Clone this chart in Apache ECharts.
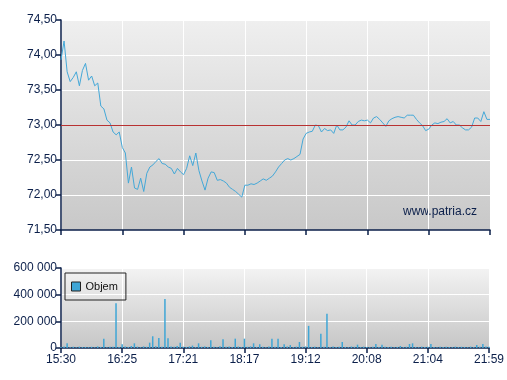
<!DOCTYPE html>
<html><head><meta charset="utf-8">
<script src="https://cdn.jsdelivr.net/npm/echarts@6/dist/echarts.min.js"></script>
<style>html,body{margin:0;padding:0;background:#fff}#c{width:507px;height:380px}</style>
</head><body><div id="c"></div>
<script>
const timeLabels = ["15:30","16:25","17:21","18:17","19:12","20:08","21:04","21:59"];
const price = [
73.93,74.20,73.76,73.62,73.68,73.76,73.56,73.78,73.88,73.64,
73.70,73.56,73.60,73.27,73.23,73.07,73.03,72.90,72.86,72.90,
72.68,72.60,72.17,72.40,72.10,72.08,72.24,72.05,72.31,72.40,
72.43,72.48,72.52,72.45,72.44,72.40,72.38,72.30,72.38,72.33,
72.29,72.38,72.56,72.42,72.60,72.35,72.20,72.07,72.24,72.33,
72.32,72.21,72.22,72.20,72.17,72.11,72.08,72.05,72.01,71.97,
72.14,72.14,72.16,72.15,72.17,72.20,72.23,72.21,72.24,72.27,
72.33,72.40,72.45,72.50,72.52,72.50,72.52,72.55,72.58,72.80,
72.88,72.90,72.91,73.00,72.99,72.90,72.95,72.92,72.93,72.88,
73.00,72.93,72.93,72.97,73.06,73.00,73.00,73.05,73.07,73.06,
73.07,73.03,73.10,73.12,73.08,73.03,72.98,73.06,73.09,73.11,
73.12,73.11,73.10,73.14,73.14,73.14,73.08,73.03,72.99,72.92,
72.94,73.00,73.03,73.02,73.04,73.05,73.09,73.03,73.05,73.00,
73.00,72.96,72.93,72.93,72.97,73.10,73.10,73.05,73.19,73.08,
73.08];
const volume = [
8000,12000,35000,6000,9000,5000,10000,7000,8000,6000,
9000,5000,12000,8000,70000,6000,9000,10000,336000,7000,
28000,12000,8000,15000,35000,10000,6000,12000,9000,40000,
88000,14000,75000,10000,368000,73000,12000,9000,15000,40000,
10000,8000,12000,18000,7000,35000,9000,12000,8000,58000,
10000,6000,14000,65000,9000,12000,8000,70000,11000,7000,
70000,9000,12000,35000,8000,28000,10000,6000,12000,70000,
9000,70000,8000,28000,11000,22000,7000,10000,45000,9000,
12000,166000,8000,10000,6000,106000,9000,257000,8000,12000,
7000,10000,45000,8000,6000,11000,9000,25000,7000,10000,
8000,6000,9000,30000,8000,25000,10000,7000,9000,6000,
8000,15000,7000,9000,30000,35000,8000,6000,10000,7000,
9000,30000,8000,6000,10000,7000,9000,8000,6000,10000,
7000,9000,8000,6000,10000,7000,22000,9000,30000,12000,
10000];
const refLevel = 73.00;

const navy = '#0b1f4a';
const chart = echarts.init(document.getElementById('c'));
const grad = (a,b)=>new echarts.graphic.LinearGradient(0,0,0,1,[{offset:0,color:a},{offset:1,color:b}]);
const xAxisCommon = (gi, showLabel) => ({
  type:'value', gridIndex:gi, min:0, max:price.length-1, interval:20,
  axisLine:{show:true,lineStyle:{color:navy,width:1.5}},
  axisTick:{show:true,length:5,lineStyle:{color:navy,width:1.5}},
  axisLabel:{show:showLabel,color:navy,fontSize:12,fontFamily:'Liberation Sans, Arial',margin:6,
    formatter:v=>timeLabels[Math.round(v/20)]||''},
  splitLine:{show:true,lineStyle:{color:'#ffffff',width:1}}
});
chart.setOption({
  animation:false,
  grid:[
    {left:61,top:20,width:429,height:210,show:true,borderWidth:0,backgroundColor:grad('#efefef','#c8c8c8')},
    {left:61,top:268,width:429,height:80,show:true,borderWidth:0,backgroundColor:grad('#f3f3f3','#c6c6c6')}
  ],
  xAxis:[xAxisCommon(0,false), xAxisCommon(1,true)],
  yAxis:[
    {type:'value',gridIndex:0,min:71.5,max:74.5,interval:0.5,
     axisLine:{show:true,lineStyle:{color:navy,width:1.5}},
     axisTick:{show:true,length:5,lineStyle:{color:navy,width:1.5}},
     axisLabel:{color:navy,fontSize:12,fontFamily:'Liberation Sans, Arial',margin:4,formatter:v=>v.toFixed(2).replace('.',',')},
     splitLine:{lineStyle:{color:'#ffffff',width:1}}},
    {type:'value',gridIndex:1,min:0,max:600000,interval:200000,
     axisLine:{show:true,lineStyle:{color:navy,width:1.5}},
     axisTick:{show:true,length:5,lineStyle:{color:navy,width:1.5}},
     axisLabel:{color:navy,fontSize:12,fontFamily:'Liberation Sans, Arial',margin:4,formatter:v=>String(v).replace(/\B(?=(\d{3})+(?!\d))/g,' ')},
     splitLine:{lineStyle:{color:'#ffffff',width:1}}}
  ],
  legend:{
    data:[{name:'Objem',icon:'rect'}], left:65, top:273, orient:'vertical',
    borderColor:'#222',borderWidth:1,borderRadius:0,padding:[8,8,8,6],itemWidth:9,itemHeight:9,itemGap:5,
    textStyle:{color:'#111',fontSize:11,fontFamily:'Liberation Sans, Arial'},
    itemStyle:{borderColor:'#222',borderWidth:1}
  },
  graphic:[{type:'text',left:403,top:206,style:{text:'www.patria.cz',fill:navy,font:'12px Liberation Sans, Arial'}}],
  series:[
    {type:'line',name:'Cena',xAxisIndex:0,yAxisIndex:0,data:price.map((v,i)=>[i,v]),
     symbol:'none',lineStyle:{color:'#44a8d8',width:1},
     markLine:{silent:true,symbol:'none',label:{show:false},lineStyle:{color:'#b83232',width:1,type:'solid'},data:[{yAxis:refLevel}]}},
    {type:'bar',name:'Objem',xAxisIndex:1,yAxisIndex:1,data:volume.map((v,i)=>[i,v]),
     barWidth:1.5,itemStyle:{color:'#3fa6d6'}}
  ]
});
</script></body></html>
